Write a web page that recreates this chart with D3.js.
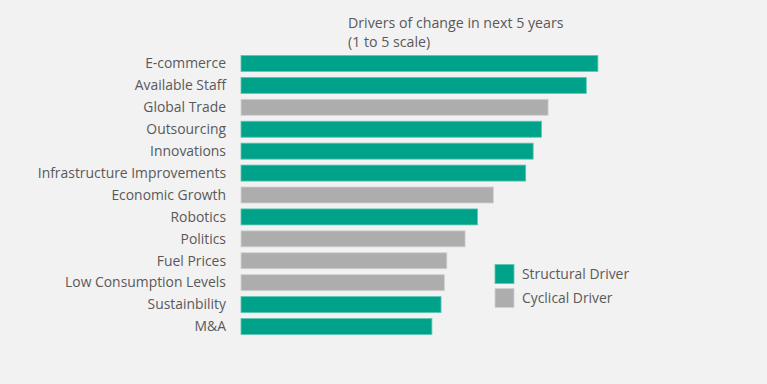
<!DOCTYPE html>
<html>
<head>
<meta charset="utf-8">
<script src="https://cdn.jsdelivr.net/npm/d3@7"></script>
<style>
  html, body { margin: 0; padding: 0; background: #f2f2f2; }
  svg { display: block; }
  text { font-family: "Open Sans", sans-serif; fill: #595959; }
</style>
</head>
<body>
<svg id="chart" width="767" height="384"></svg>
<script>
const categories = ["E-commerce", "Available Staff", "Global Trade ", "Outsourcing", "Innovations",
  "Infrastructure Improvements", "Economic Growth", "Robotics", "Politics", "Fuel Prices",
  "Low Consumption Levels", "Sustainbility", "M&A"];
const values = [4.30, 4.16, 3.70, 3.62, 3.52, 3.43, 3.04, 2.85, 2.70, 2.48, 2.45, 2.41, 2.30];
const driverType = ["Structural", "Structural", "Cyclical", "Structural", "Structural",
  "Structural", "Cyclical", "Structural", "Cyclical", "Cyclical", "Cyclical", "Structural", "Structural"];
const legendLabels = ["Structural Driver", "Cyclical Driver"];
const titleLines = ["Drivers of change in next 5 years", "(1 to 5 scale)"];

const svg = d3.select("#chart");
const W = 767, H = 384;

const fill = d3.scaleOrdinal().domain(["Structural", "Cyclical"]).range(["#00a389", "#adadad"]);
const stroke = d3.scaleOrdinal().domain(["Structural", "Cyclical"]).range(["#5cc7b3", "#d2d2d2"]);

const x = d3.scaleLinear().domain([0, 5]).range([241, 656]);
const y = d3.scaleBand().domain(categories).range([52.5, 337.5]).paddingInner(0.27).paddingOuter(0.135);

svg.append("rect").attr("width", W).attr("height", H).attr("fill", "#f2f2f2");

svg.append("g").selectAll("rect").data(categories).join("rect")
  .attr("x", x(0))
  .attr("y", d => y(d))
  .attr("width", (d, i) => x(values[i]) - x(0))
  .attr("height", y.bandwidth())
  .attr("fill", (d, i) => fill(driverType[i]))
  .attr("stroke", (d, i) => stroke(driverType[i]))
  .attr("stroke-width", 0.8);

const yAxis = d3.axisLeft(y).tickSize(0).tickPadding(0);
const ag = svg.append("g").attr("transform", `translate(226,0)`).call(yAxis);
ag.select(".domain").remove();
ag.selectAll("text").attr("font-size", 13.9).attr("font-family", "Open Sans, sans-serif").attr("fill", "#595959").attr("dy", "0.34em");

svg.append("g").selectAll("text").data(titleLines).join("text")
  .attr("x", 348).attr("y", (d, i) => 28 + i * 19)
  .attr("font-size", 14.2)
  .text(d => d);

const lg = svg.append("g").selectAll("g").data(legendLabels).join("g")
  .attr("transform", (d, i) => `translate(495,${264.5 + i * 24})`);
lg.append("rect").attr("width", 19).attr("height", 19)
  .attr("fill", (d, i) => fill(["Structural", "Cyclical"][i]))
  .attr("stroke", (d, i) => stroke(["Structural", "Cyclical"][i]))
  .attr("stroke-width", 0.8);
lg.append("text").attr("x", 27).attr("y", 9.5).attr("dy", "0.35em")
  .attr("font-size", 13.9).text(d => d);
</script>
</body>
</html>
